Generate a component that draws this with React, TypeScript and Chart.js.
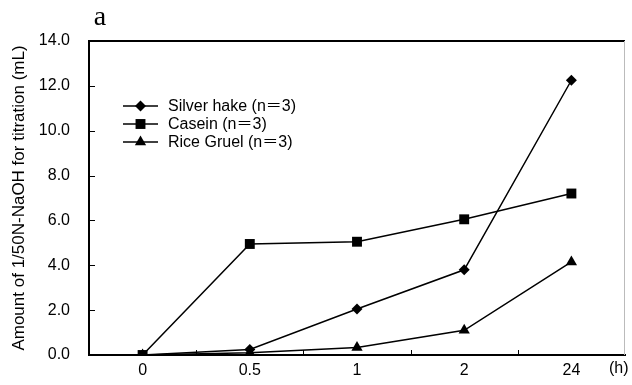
import React, { useEffect, useRef } from 'react';
import { Chart, registerables } from 'chart.js';

Chart.register(...registerables);

const categories = ['0', '0.5', '1', '2', '24'];
const silverHake = [0, 0.25, 2.05, 3.8, 12.25];
const casein = [0, 4.95, 5.05, 6.05, 7.2];
const riceGruel = [0, 0.1, 0.33, 1.1, 4.15];
const seriesLabels = ['Silver hake (n＝3)', 'Casein (n＝3)', 'Rice Gruel (n＝3)'];
const pointStyles = ['rectRot', 'rect', 'triangle'];
const pointRadii = [5.5, 7, 6.5];
const yMin = 0;
const yMax = 14;
const yStep = 2;
const yTitle = 'Amount of 1/50N-NaOH for titration (mL)';
const panelLabel = 'a';
const unitLabel = '(h)';

const SANS = "'Liberation Sans', 'Noto Sans CJK JP', Arial, sans-serif";

function drawMarker(ctx: CanvasRenderingContext2D, style: string, x: number, y: number, r: number) {
  ctx.beginPath();
  if (style === 'rectRot') {
    ctx.moveTo(x, y - r);
    ctx.lineTo(x + r, y);
    ctx.lineTo(x, y + r);
    ctx.lineTo(x - r, y);
  } else if (style === 'rect') {
    const s = Math.SQRT1_2 * r;
    ctx.rect(x - s, y - s, 2 * s, 2 * s);
  } else {
    const w = r * Math.sqrt(3) / 2;
    ctx.moveTo(x, y - r);
    ctx.lineTo(x + w, y + r / 2);
    ctx.lineTo(x - w, y + r / 2);
  }
  ctx.closePath();
  ctx.fill();
}

const decorPlugin = {
  id: 'decor',
  afterDraw(chart: any) {
    const { ctx, chartArea, scales } = chart;
    const { left, right, top, bottom } = chartArea;
    ctx.save();
    ctx.strokeStyle = '#000';
    ctx.lineWidth = 2;
    ctx.beginPath();
    ctx.moveTo(left, top);
    ctx.lineTo(right, top);
    ctx.stroke();
    ctx.strokeStyle = '#bbb';
    ctx.lineWidth = 1;
    ctx.beginPath();
    ctx.moveTo(right - 0.5, top);
    ctx.lineTo(right - 0.5, bottom);
    ctx.stroke();
    ctx.strokeStyle = '#000';
    ctx.lineWidth = 1;
    const ys = scales.y;
    for (let v = yMin; v <= yMax; v += yStep) {
      const py = Math.round(ys.getPixelForValue(v)) + 0.5;
      ctx.beginPath();
      ctx.moveTo(left, py);
      ctx.lineTo(left + 6, py);
      ctx.stroke();
    }
    const w = (right - left) / categories.length;
    for (let k = 1; k < categories.length; k++) {
      const px = Math.round(left + k * w) + 0.5;
      ctx.beginPath();
      ctx.moveTo(px, bottom);
      ctx.lineTo(px, bottom - 5);
      ctx.stroke();
    }
    ctx.fillStyle = '#000';
    ctx.font = "28px 'Liberation Serif', 'DejaVu Serif', serif";
    ctx.textAlign = 'center';
    ctx.textBaseline = 'alphabetic';
    ctx.fillText(panelLabel, 100, 25);
    ctx.font = `16px ${SANS}`;
    ctx.textAlign = 'left';
    ctx.textBaseline = 'middle';
    ctx.fillText(unitLabel, 609, 369);
    const lx0 = 123;
    const lx1 = 158;
    const ly0 = 106;
    const dy = 18;
    chart.data.datasets.forEach((ds: any, i: number) => {
      const y = ly0 + i * dy;
      ctx.strokeStyle = '#000';
      ctx.lineWidth = 1.5;
      ctx.beginPath();
      ctx.moveTo(lx0, y);
      ctx.lineTo(lx1, y);
      ctx.stroke();
      ctx.fillStyle = '#000';
      drawMarker(ctx, pointStyles[i], (lx0 + lx1) / 2, y, pointRadii[i]);
      ctx.font = `16px ${SANS}`;
      ctx.textAlign = 'left';
      ctx.textBaseline = 'middle';
      ctx.fillText(ds.label, 168, y + 1);
    });
    ctx.restore();
  },
};

export default function App() {
  const canvasRef = useRef<HTMLCanvasElement | null>(null);

  useEffect(() => {
    const canvas = canvasRef.current;
    if (!canvas) return;
    const seriesValues = [silverHake, casein, riceGruel];
    const chart = new Chart(canvas, {
      type: 'line',
      data: {
        labels: categories,
        datasets: seriesValues.map((vals, i) => ({
          label: seriesLabels[i],
          data: vals,
          borderColor: '#000',
          backgroundColor: '#000',
          borderWidth: 1.5,
          pointStyle: pointStyles[i] as any,
          pointRadius: pointRadii[i],
          pointBackgroundColor: '#000',
          pointBorderColor: '#000',
          pointBorderWidth: 0,
          tension: 0,
          fill: false,
        })),
      },
      options: {
        responsive: false,
        animation: false,
        events: [],
        layout: { padding: { top: 41, right: 1, left: 0, bottom: 0 } },
        plugins: {
          legend: { display: false },
          tooltip: { enabled: false },
          title: { display: false },
        },
        scales: {
          x: {
            type: 'category',
            offset: true,
            grid: { display: false },
            border: { display: true, color: '#000', width: 2 },
            ticks: { color: '#000', font: { family: SANS, size: 16 }, padding: -2, maxRotation: 0 },
            afterFit: (s: any) => { s.height = 30; },
          },
          y: {
            min: yMin,
            max: yMax,
            grid: { display: false },
            border: { display: true, color: '#000', width: 2 },
            ticks: {
              stepSize: yStep,
              color: '#000',
              font: { family: SANS, size: 16 },
              padding: 11,
              callback: (v: any) => Number(v).toFixed(1),
            },
            title: {
              display: true,
              text: yTitle,
              color: '#000',
              font: { family: SANS, size: 17 },
              padding: { top: 9, bottom: 0 },
            },
            afterFit: (s: any) => { s.width = 89; },
          },
        },
      },
      plugins: [decorPlugin],
    });
    return () => chart.destroy();
  }, []);

  return (
    <div style={{ position: 'fixed', left: 0, top: 0, width: 632, height: 385, background: '#fff' }}>
      <canvas ref={canvasRef} width={632} height={385} style={{ display: 'block' }} />
    </div>
  );
}
